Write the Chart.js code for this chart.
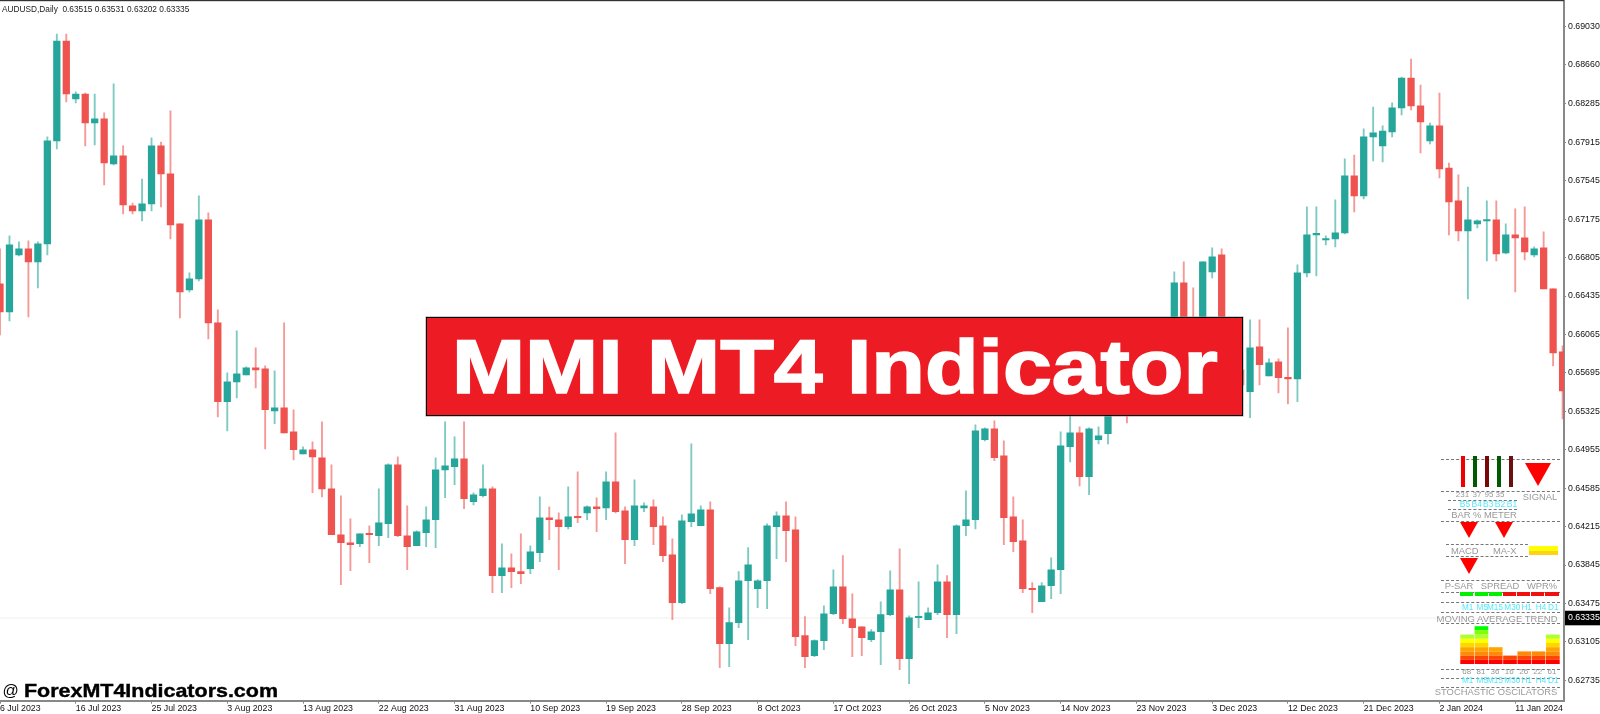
<!DOCTYPE html>
<html>
<head>
<meta charset="utf-8">
<title>MMI MT4 Indicator</title>
<script src="https://cdn.jsdelivr.net/npm/chart.js@4"></script>
<style>
  html, body { margin: 0; padding: 0; background: #fff; overflow: hidden; }
  #stage { position: relative; width: 1600px; height: 714px; font-family: "Liberation Sans", sans-serif; }
  #chartMain { position: absolute; left: 0; top: 0; }
  #chartStoch { position: absolute; left: 1459.6px; top: 622.3px; }
  .txt { position: absolute; white-space: nowrap; transform: translate(-50%, -50%); line-height: 1; }
  .box { position: absolute; }
  .dash { position: absolute; height: 0; border-top: 1px dashed #777; }
  .tri { position: absolute; width: 0; height: 0; border-style: solid; border-color: #f00 transparent transparent transparent; }
  #banner { position: absolute; left: 425.5px; top: 317px; width: 815.5px; height: 97px; background: #ed1c24; border: 1.5px solid #000; box-shadow: 0 0 0 .5px #999; }
  #bannerText { position: absolute; left: 25px; top: 5px; font: bold 76px/87px "Liberation Sans", sans-serif; color: #fff; -webkit-text-stroke: 1.6px #fff; transform: scaleX(1.155); transform-origin: left center; white-space: nowrap; }
  #header { position: absolute; left: 2px; top: 2.5px; font-size: 8.3px; color: #222; white-space: nowrap; transform: scaleY(1.15); transform-origin: left top; }
  #mark { position: absolute; left: 24px; top: 680px; font: bold 18.5px/21px "Liberation Sans", sans-serif; color: #000; -webkit-text-stroke: .4px #000; transform: scaleX(1.16); transform-origin: left center; white-space: nowrap; }
  #markAt { position: absolute; left: 2.5px; top: 681px; font: 16px/20px "Liberation Sans", sans-serif; color: #000; }
</style>
</head>
<body>
<div id="stage">
  <canvas id="chartMain" width="1600" height="714"></canvas>
  <div id="header">AUDUSD,Daily&nbsp; 0.63515 0.63531 0.63202 0.63335</div>
  <div id="banner"><div id="bannerText">MMI MT4 Indicator</div></div>
  <div id="markAt">@</div>
  <div id="mark">ForexMT4Indicators.com</div>
  <canvas id="chartStoch" width="100" height="42"></canvas>
  <div id="panel"></div>
</div>
<script>
// daily candles
const opens = [0.66552,0.66283,0.66831,0.66889,0.66764,0.66937,0.67928,0.68890,0.68332,0.68380,0.68101,0.68140,0.67707,0.67784,0.67303,0.67254,0.67322,0.67880,0.67611,0.67129,0.66494,0.66600,0.67168,0.66177,0.65417,0.65609,0.65676,0.65744,0.65734,0.65330,0.65359,0.65128,0.64916,0.64955,0.64878,0.64579,0.64137,0.64060,0.64050,0.64146,0.64127,0.64243,0.64810,0.64127,0.64031,0.64156,0.64281,0.64762,0.64791,0.64868,0.64454,0.64512,0.64579,0.63743,0.63819,0.63781,0.63809,0.63963,0.64300,0.64281,0.64214,0.64310,0.64348,0.64406,0.64396,0.64647,0.64368,0.64089,0.64396,0.64406,0.64223,0.63944,0.63482,0.64262,0.64223,0.64377,0.63627,0.63088,0.63290,0.63694,0.63617,0.63694,0.64214,0.64319,0.64185,0.63165,0.62972,0.63117,0.63376,0.63636,0.63328,0.63251,0.63126,0.63203,0.63367,0.63607,0.62944,0.63338,0.63319,0.63386,0.63684,0.63367,0.64223,0.64281,0.65051,0.65157,0.64897,0.64310,0.64079,0.63617,0.63492,0.63646,0.63800,0.64984,0.65118,0.64695,0.65051,0.65109,0.65484,0.65676,0.65484,0.65724,0.65917,0.65965,0.66109,0.66562,0.66109,0.65965,0.66668,0.66831,0.65484,0.65724,0.65513,0.65946,0.65667,0.65801,0.65648,0.65638,0.66658,0.67024,0.66975,0.66985,0.67043,0.67591,0.67399,0.67967,0.67880,0.68015,0.68246,0.68534,0.68265,0.67928,0.68073,0.67668,0.67351,0.67062,0.67129,0.67158,0.67168,0.66850,0.67024,0.66995,0.66831,0.66898,0.66504,0.65898];
const highs = [0.66889,0.67014,0.66956,0.66966,0.66956,0.67967,0.68958,0.68958,0.68400,0.68390,0.68380,0.68198,0.68477,0.67880,0.67331,0.67562,0.67957,0.67918,0.68217,0.67129,0.66658,0.67399,0.67235,0.66302,0.65696,0.66100,0.65753,0.65936,0.65763,0.65715,0.66177,0.65340,0.64984,0.65032,0.65224,0.64810,0.64512,0.64291,0.64146,0.64223,0.64579,0.64820,0.64887,0.64416,0.64175,0.64406,0.64878,0.65224,0.65080,0.65224,0.64541,0.64810,0.64599,0.64050,0.63954,0.64146,0.64031,0.64502,0.64406,0.64348,0.64599,0.64743,0.64416,0.64493,0.64743,0.65118,0.64406,0.64666,0.64445,0.64473,0.64310,0.64098,0.64329,0.65012,0.64416,0.64454,0.63636,0.63434,0.63781,0.64012,0.63704,0.64243,0.64358,0.64454,0.64310,0.63348,0.63126,0.63453,0.63800,0.63935,0.63569,0.63251,0.63223,0.63492,0.63790,0.64002,0.63357,0.63684,0.63434,0.63848,0.63743,0.64233,0.64560,0.65195,0.65166,0.65234,0.65041,0.64502,0.64281,0.63675,0.63675,0.63915,0.65128,0.65291,0.65176,0.65166,0.65176,0.65628,0.65773,0.65821,0.65821,0.66013,0.66061,0.66158,0.66668,0.66764,0.66514,0.66764,0.66898,0.66889,0.65821,0.66013,0.66206,0.66206,0.65830,0.65830,0.66129,0.66735,0.67293,0.67293,0.67014,0.67360,0.67755,0.67793,0.68044,0.68255,0.68073,0.68294,0.68544,0.68717,0.68467,0.68101,0.68390,0.67716,0.67601,0.67485,0.67168,0.67351,0.67351,0.67129,0.67274,0.67293,0.66908,0.67052,0.66504,0.65955];
const lows = [0.66061,0.66196,0.66822,0.66235,0.66514,0.66831,0.67851,0.68303,0.68294,0.67880,0.67890,0.67505,0.67697,0.67226,0.67226,0.67158,0.67254,0.67293,0.66985,0.66225,0.66475,0.66581,0.66023,0.65272,0.65137,0.65455,0.65676,0.65551,0.64964,0.65205,0.65118,0.64858,0.64916,0.64541,0.64502,0.64137,0.63655,0.63790,0.64021,0.63867,0.64031,0.64108,0.64118,0.63800,0.64031,0.64021,0.64012,0.64493,0.64618,0.64387,0.64425,0.64502,0.63579,0.63579,0.63627,0.63665,0.63761,0.63877,0.64089,0.63800,0.64194,0.64252,0.64281,0.64166,0.64281,0.64348,0.63858,0.64031,0.64358,0.64040,0.63877,0.63319,0.63473,0.64214,0.64223,0.63569,0.62857,0.62867,0.63242,0.63126,0.63434,0.63425,0.63906,0.63877,0.63069,0.62857,0.62963,0.63030,0.63367,0.63280,0.62963,0.62972,0.63107,0.62886,0.63357,0.62838,0.62703,0.63242,0.63319,0.63367,0.63145,0.63184,0.64127,0.64194,0.65041,0.64849,0.64040,0.63973,0.63579,0.63386,0.63492,0.63521,0.63569,0.64839,0.64608,0.64522,0.65012,0.65012,0.65436,0.65214,0.65417,0.65676,0.65773,0.65869,0.66061,0.65821,0.65724,0.65917,0.66610,0.65388,0.65388,0.65436,0.65263,0.65580,0.65667,0.65503,0.65397,0.65417,0.66619,0.66629,0.66927,0.66908,0.67033,0.67245,0.67370,0.67736,0.67726,0.67967,0.68178,0.68226,0.67813,0.67899,0.67572,0.67024,0.66966,0.66408,0.67091,0.66773,0.66773,0.66841,0.66475,0.66783,0.66812,0.66504,0.65763,0.65253];
const closes = [0.66283,0.66927,0.66889,0.66764,0.66937,0.67928,0.68890,0.68380,0.68380,0.68101,0.68140,0.67716,0.67784,0.67312,0.67254,0.67322,0.67880,0.67611,0.67120,0.66475,0.66600,0.67168,0.66177,0.65417,0.65609,0.65686,0.65744,0.65724,0.65340,0.65359,0.65118,0.64955,0.64955,0.64887,0.64579,0.64137,0.64060,0.64040,0.64146,0.64137,0.64252,0.64810,0.64127,0.64021,0.64166,0.64281,0.64762,0.64801,0.64868,0.64483,0.64522,0.64579,0.63743,0.63819,0.63781,0.63761,0.63973,0.64300,0.64281,0.64214,0.64310,0.64300,0.64406,0.64387,0.64647,0.64358,0.64089,0.64416,0.64416,0.64214,0.63935,0.63482,0.64271,0.64339,0.64377,0.63617,0.63088,0.63290,0.63694,0.63848,0.63694,0.64223,0.64319,0.64175,0.63155,0.62963,0.63117,0.63376,0.63636,0.63328,0.63242,0.63145,0.63203,0.63367,0.63607,0.62944,0.63338,0.63348,0.63386,0.63684,0.63367,0.64223,0.64281,0.65137,0.65157,0.64878,0.64300,0.64069,0.63617,0.63607,0.63646,0.63800,0.64993,0.65118,0.64695,0.65157,0.65089,0.65484,0.65676,0.65484,0.65724,0.65917,0.65965,0.66109,0.66562,0.65965,0.65965,0.66764,0.66812,0.65484,0.65724,0.65580,0.65936,0.65773,0.65792,0.65648,0.65638,0.66658,0.67024,0.67033,0.66985,0.67043,0.67591,0.67399,0.67967,0.68005,0.68024,0.68246,0.68534,0.68265,0.68111,0.68073,0.67659,0.67341,0.67062,0.67168,0.67158,0.67168,0.66841,0.67024,0.66995,0.66860,0.66889,0.66504,0.65888,0.65522];

const tickLabels = ['6 Jul 2023','16 Jul 2023','25 Jul 2023','3 Aug 2023','13 Aug 2023','22 Aug 2023','31 Aug 2023','10 Sep 2023','19 Sep 2023','28 Sep 2023','8 Oct 2023','17 Oct 2023','26 Oct 2023','5 Nov 2023','14 Nov 2023','23 Nov 2023','3 Dec 2023','12 Dec 2023','21 Dec 2023','2 Jan 2024','11 Jan 2024'];
const priceTicks = [0.69030,0.68660,0.68285,0.67915,0.67545,0.67175,0.66805,0.66435,0.66065,0.65695,0.65325,0.64955,0.64585,0.64215,0.63845,0.63475,0.63335,0.63105,0.62735];
const lastPrice = 0.63335;

// indicator panel
const stochValues = [68,81,36,16,26,22,61];
const stochColors = ['#ff0000','#ff4500','#ff8c00','#ffa500','#ffd700','#ffff00','#adff2f','#7fff00','#00ff00','#00ff00'];
const meterValues = ['231','37','95','35'];
const meterBars = ['#f00000','#005a00','#7a0808','#005a00','#6a1010'];
const barNames = ['B5','B4','B3','B2','B1'];
const frames = ['M1','M5','M15','M30','H1','H4','D1'];
const stripColors = ['#00f000','#00f000','#00f000','#f01010','#f01010','#f01010','#f01010'];

const candleIndex = opens.map((_, i) => i);
const teal = '#26a69a', red = '#ef5350';
const isUp = candleIndex.map(i => closes[i] >= opens[i]);

const frameLines = {
  id: 'frameLines',
  afterDraw(chart) {
    const { ctx, chartArea } = chart;
    ctx.save();
    ctx.fillStyle = '#333';
    ctx.fillRect(0, 0, chartArea.right, 1.2);
    ctx.restore();
  }
};

// the axes reserve room for their outer labels, which would move the plot edges
function noAxisPadding(s) {
  s.paddingTop = s.paddingBottom = s.paddingLeft = s.paddingRight = 0;
}

new Chart(document.getElementById('chartMain'), {
  data: {
    labels: candleIndex,
    datasets: [
      {
        type: 'bar', order: 1, grouped: false, barThickness: 6.6, minBarLength: 1.4,
        data: candleIndex.map(i => [opens[i], closes[i]]),
        backgroundColor: isUp.map(u => u ? teal : red),
        borderWidth: 0
      },
      {
        type: 'bar', order: 2, grouped: false, barThickness: 1.2,
        data: candleIndex.map(i => [lows[i], highs[i]]),
        backgroundColor: isUp.map(u => u ? 'rgba(38,166,154,.6)' : 'rgba(239,83,80,.6)'),
        borderWidth: 0
      },
      {
        type: 'line', order: 3,
        data: candleIndex.map(() => lastPrice),
        borderColor: '#efefef', borderWidth: 1, pointRadius: 0
      }
    ]
  },
  options: {
    responsive: false,
    animation: false,
    events: [],
    layout: { padding: 0 },
    plugins: { legend: { display: false }, tooltip: { enabled: false } },
    scales: {
      x: {
        type: 'linear', min: 0, max: 165.15, offset: false,
        afterBuildTicks: s => { s.ticks = tickLabels.map((_, i) => ({ value: i * 8 })); },
        afterFit: s => { s.height = 13.3; noAxisPadding(s); },
        border: { color: '#888', width: 2 },
        grid: { drawOnChartArea: false, offset: false, tickLength: 3, color: '#888' },
        ticks: {
          autoSkip: false, maxRotation: 0, align: 'start', padding: 0,
          color: '#111', font: { family: 'Liberation Sans', size: 8.8 },
          callback: (v, i) => tickLabels[i]
        }
      },
      y: {
        position: 'right', min: 0.62539, max: 0.69285, beginAtZero: false,
        afterBuildTicks: s => { s.ticks = priceTicks.map(v => ({ value: v })); },
        afterFit: s => { s.width = 36; noAxisPadding(s); },
        border: { color: '#888', width: 2 },
        grid: { drawOnChartArea: false, tickLength: 2, color: '#888' },
        ticks: {
          autoSkip: false, padding: 2,
          color: c => c.tick.value === lastPrice ? '#fff' : '#111',
          showLabelBackdrop: c => c.tick.value === lastPrice,
          backdropColor: '#000', backdropPadding: { left: 3, right: 4, top: 2, bottom: 2 },
          font: { family: 'Liberation Sans', size: 8.8 },
          callback: v => v.toFixed(5)
        }
      }
    }
  },
  plugins: [frameLines]
});

// stochastic histogram, one stacked block per 10 points
const stochLevels = stochValues.map(v => Math.ceil(v / 10));
new Chart(document.getElementById('chartStoch'), {
  type: 'bar',
  data: {
    labels: frames,
    datasets: stochColors.map((color, k) => ({
      data: stochLevels.map(l => l > k ? 1 : 0),
      backgroundColor: color,
      borderWidth: 0,
      barPercentage: 0.96,
      categoryPercentage: 1
    }))
  },
  options: {
    responsive: false,
    animation: false,
    events: [],
    plugins: { legend: { display: false }, tooltip: { enabled: false } },
    scales: {
      x: { display: false, stacked: true },
      y: { display: false, stacked: true, min: 0, max: 10 }
    }
  }
});

// panel labels and shapes
const panel = document.getElementById('panel');
function text(str, cx, cy, size, color) {
  const d = document.createElement('div');
  d.className = 'txt';
  d.textContent = str;
  d.style.cssText = `left:${cx}px;top:${cy}px;font-size:${size}px;color:${color}`;
  panel.appendChild(d);
}
function dash(x1, x2, y) {
  const d = document.createElement('div');
  d.className = 'dash';
  d.style.cssText = `left:${x1}px;top:${y}px;width:${x2 - x1}px`;
  panel.appendChild(d);
}
function box(x, y, w, h, color) {
  const d = document.createElement('div');
  d.className = 'box';
  d.style.cssText = `left:${x}px;top:${y}px;width:${w}px;height:${h}px;background:${color}`;
  panel.appendChild(d);
}
function tri(x, y, w, h) {
  const d = document.createElement('div');
  d.className = 'tri';
  d.style.cssText = `left:${x}px;top:${y}px;border-width:${h}px ${w / 2}px 0 ${w / 2}px`;
  panel.appendChild(d);
}

[[459,1441,1560],[491,1441,1560],[500,1448,1517],[509,1448,1517],[521,1441,1560],[544,1446,1528],[556,1446,1528],[580,1441,1560],[592,1441,1560],[602,1441,1560],[612,1441,1560],[623,1441,1560],[669,1441,1560],[678,1441,1560],[687,1441,1560]]
  .forEach(l => dash(l[1], l[2], l[0]));

const gray = '#999', cyan = '#4feaff';
[1463.3,1475,1487,1498.7,1510.7].forEach((x, i) => box(x - 2.2, 456, 4.4, 31.3, meterBars[i]));
[1462.5,1477,1489,1500].forEach((x, i) => text(meterValues[i], x, 494.5, 8, gray));
[1465,1476.7,1488.3,1500,1512].forEach((x, i) => text(barNames[i], x, 504.3, 8.5, cyan));
text('SIGNAL', 1540, 497.3, 9.4, gray);
text('BAR % METER', 1484, 515, 9.4, gray);
tri(1525, 463, 27.3, 23);
tri(1460, 522.3, 19.3, 16.4);
tri(1495.3, 522.3, 19.3, 16.4);
tri(1460, 557.7, 19.3, 16.4);
text('MACD', 1464.8, 550.7, 9.4, gray);
text('MA-X', 1504.7, 550.7, 9.4, gray);
box(1529, 546, 28.7, 4.6, '#ffff00');
box(1529, 551, 28.7, 3.7, '#ffd21a');
text('P-SAR', 1459, 586, 9.4, gray);
text('SPREAD', 1500, 586, 9.4, gray);
text('WPR%', 1542, 586, 9.4, gray);
[1460,1474.7,1488.7,1502.7,1517,1531,1545.3].forEach((x, i) => box(x, 592.3, 13.4, 3.7, stripColors[i]));
const frameX = [1467.7,1482.3,1495,1512.3,1526.7,1541,1553.3];
frameX.forEach((x, i) => text(frames[i], x, 607.7, 8.2, cyan));
text('MOVING AVERAGE TREND', 1497, 618.7, 9.5, gray);
[1466.7,1481,1495,1509.3,1523.7,1537.7,1552].forEach((x, i) => text(String(stochValues[i]), x, 672.3, 8, gray));
frameX.forEach((x, i) => text(frames[i], x, 681.3, 8.2, cyan));
text('STOCHASTIC OSCILATORS', 1496, 692, 9.4, gray);
</script>
</body>
</html>
